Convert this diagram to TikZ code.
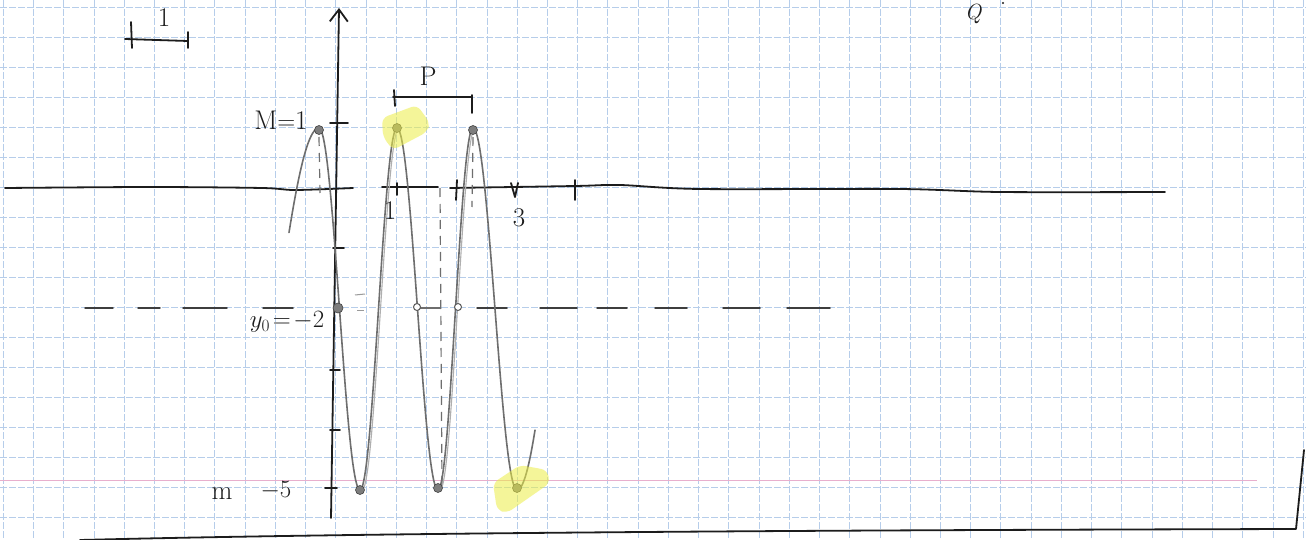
\documentclass[tikz,border=0pt]{standalone}
\usetikzlibrary{arrows.meta}
\definecolor{gridblue}{RGB}{182,205,234}
\definecolor{pencil}{RGB}{110,110,110}
\definecolor{ink}{RGB}{28,28,28}
\definecolor{hilite}{RGB}{236,238,70}
\definecolor{pinkline}{RGB}{232,175,205}
\tikzset{
  gridline/.style={gridblue, line width=0.9pt, dash pattern=on 7pt off 2pt},
  inkline/.style={ink, line width=1.8pt, line cap=round, line join=round},
  pencurve/.style={pencil, line width=1.6pt, line cap=round},
  pendash/.style={pencil, line width=1.2pt, dash pattern=on 9pt off 7pt},
  middash/.style={ink!85, line width=1.5pt, line cap=round},
  dotfill/.style={circle, fill=pencil!90, draw=pencil!60!black, line width=0.6pt, inner sep=0pt, minimum size=9pt},
  dotopen/.style={circle, fill=white, draw=pencil!80!black, line width=1pt, inner sep=0pt, minimum size=7pt},
  hand/.style={ink, font=\fontsize{27}{31}\selectfont, inner sep=0pt},
}
\begin{document}
\begin{tikzpicture}[x=1pt,y=-1pt]
\fill[white] (0,0) rectangle (1306,540);
\useasboundingbox (0,0) rectangle (1306,540);
% graph paper
\foreach \i in {0,...,43} \draw[gridline] ({3.3+30.23*\i},0) -- ++(0,540);
\foreach \j in {0,...,17} \draw[gridline] (0,{7+30*\j}) -- ++(1306,0);
\draw[pinkline, line width=1pt] (0,480) -- (1257,480);

% scale bar
\coordinate (s1) at (125,39);
\coordinate (s2) at (188,41);
\draw[inkline] (s1) -- (s2);
\draw[inkline] (131,22) -- (132,48);
\draw[inkline] (188,32) -- (188,48);
\node[hand] (scalelab) at (164,18) {1};

% letter at top
\node[hand, font=\fontsize{22}{26}\selectfont\itshape] (qlab) at (973,14) {Q};
\fill[ink] (1003,3) circle (1.2pt);

% axes
\coordinate (ybot) at (331,518);
\coordinate (ytop) at (339,8);
\draw[inkline, -{Straight Barb[length=12pt,width=18pt]}] (ybot) -- (ytop);
\draw[inkline] plot[smooth] coordinates {(5,188) (150,187) (262,188) (295,190) (353,188)};
\draw[inkline] (382,187) -- (438,187);
\draw[inkline] plot[smooth] coordinates {(450,188) (575,186) (620,185) (700,189) (900,189) (1000,192) (1165,192)};

% y ticks
\draw[inkline] (330,123) -- (348,123);
\draw[inkline] (333,248) -- (344,248);
\draw[inkline] (330,370) -- (340,370);
\draw[inkline] (330,430) -- (340,430);
\draw[inkline] (325,488) -- (337,488);
% x ticks
\draw[inkline] (397,183) -- (397,195);
\draw[inkline] (457,180) -- (456,200);
\draw[inkline] (511,183) -- (515,197) -- (518,183);
\draw[inkline] (575,180) -- (575,200);

% mid line (dashed by hand)
\foreach \a/\b in {85/113, 138/160, 183/227, 263/293, 477/507, 540/577, 597/627, 655/687, 723/760, 787/830}
  \draw[middash] (\a,308) -- (\b,308);
\draw[pencil, line width=1.1pt] (417,308) -- (440,308);
\draw[pencil!70, line width=1pt] (355,295) -- (365,294);
\draw[pencil!70, line width=1pt] (357,310) -- (364,310);

% dashed verticals
\draw[pendash] (319,137) -- (320,193);
\draw[pendash] (473,137) -- (472,207);
\draw[pendash] (440,188) -- (442,485);

% sinusoid (pencil)
\draw[pencurve] plot[domain=-65:0, samples=20] ({319+30*\x/65},{309-181*cos(\x)});
\draw[pencurve] plot[domain=0:180, samples=40] ({319+41*\x/180},{309-181*cos(\x)});
\draw[pencurve] plot[domain=0:180, samples=40] ({360+37*\x/180},{309+181*cos(\x)});
\draw[pencurve] plot[domain=0:180, samples=40] ({397+41*\x/180},{309-181*cos(\x)});
\draw[pencurve] plot[domain=0:180, samples=40] ({438+35*\x/180},{309+181*cos(\x)});
\draw[pencurve] plot[domain=0:180, samples=40] ({473+44*\x/180},{309-181*cos(\x)});
\draw[pencurve] plot[domain=0:48, samples=20] ({517+18*\x/48},{309+181*cos(\x)});
% second light trace
\draw[pencurve, pencil!55, line width=1.1pt] plot[domain=0:180, samples=40] ({362+37*\x/180},{309+181*cos(\x)});
\draw[pencurve, pencil!55, line width=1.1pt] plot[domain=0:180, samples=40] ({440+35*\x/180},{309+181*cos(\x)});

% points
\node[dotfill] (pk1) at (319,130) {};
\node[dotfill] (pk2) at (397,128) {};
\node[dotfill] (pk3) at (473,130) {};
\node[dotfill] (tr1) at (360,490) {};
\node[dotfill] (tr2) at (438,488) {};
\node[dotfill] (tr3) at (517,488) {};
\node[dotfill, minimum size=10pt] (y0) at (338,308) {};
\node[dotopen] (c1) at (417,307) {};
\node[dotopen] (c2) at (458,307) {};

% highlighter
\fill[hilite, opacity=0.55, rounded corners=6pt] (382,118) -- (417,105) -- (430,123) -- (427,132) -- (393,150) -- (383,137) -- cycle;
\fill[hilite, opacity=0.55, rounded corners=6pt] (493,483) -- (520,465) -- (547,470) -- (550,483) -- (507,513) -- (497,510) -- cycle;

% period bracket
\draw[inkline] (393,97) -- (472,97);
\draw[inkline] (394,90) -- (395,106);
\draw[inkline] (472,95) -- (472,113);
\node[hand] (plab) at (428,76) {P};

% labels
\node[hand] (mlab) at (281,120) {M$=$1};
\node[hand] (y0lab) at (287,322) {$y_0\!=\!-2$};
\node[hand] (mminlab) at (222,494) {m};
\node[hand] (m5lab) at (276,491) {$-5$};
\node[hand] (x1lab) at (390,211) {1};
\node[hand] (x3lab) at (519,218) {3};

% bottom line
\draw[inkline] (80,540) .. controls (400,532) and (900,530) .. (1296,529) -- (1304,450);
\end{tikzpicture}
\end{document}
